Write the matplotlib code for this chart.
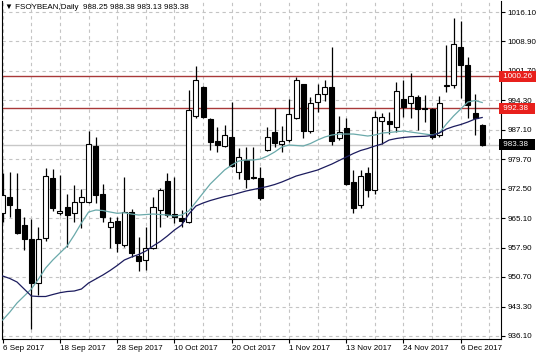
import numpy as np
import matplotlib
matplotlib.use("Agg")
import matplotlib.pyplot as plt
from matplotlib.transforms import blended_transform_factory

plt.rcParams['font.family'] = ['Liberation Sans', 'DejaVu Sans']

opens = [966.45, 970.41, 967.44, 963.48, 960.02, 949.21, 960.27, 975.11, 966.38, 967.94,
         966.45, 969.25, 969.17, 983.03, 971.15, 963.06, 964.47, 958.54, 966.70, 955.82,
         954.83, 957.79, 967.19, 974.37, 966.20, 965.14, 964.23, 990.45, 997.62, 989.78,
         984.34, 983.03, 985.25, 976.59, 979.56, 975.23, 975.11, 982.04, 986.49, 983.64,
         984.51, 989.95, 998.36, 986.74, 993.98, 995.89, 997.70, 984.93, 987.60, 974.19,
         968.43, 976.35, 972.14, 989.33, 989.28, 987.73, 994.65, 993.74, 995.15, 992.55,
         992.30, 985.75, 997.87, 998.12, 1007.44, 1003.06, 991.11, 988.25]
highs = [976.35, 976.59, 976.35, 965.46, 964.97, 963.06, 977.58, 977.34, 975.85, 971.15,
         973.38, 972.39, 986.74, 985.25, 973.63, 965.54, 965.46, 975.36, 967.44, 960.52,
         962.99, 970.41, 972.64, 976.35, 975.36, 967.19, 996.88, 1002.81, 997.87, 989.95,
         987.85, 988.34, 993.91, 982.53, 982.78, 982.78, 977.83, 987.73, 992.55, 987.97,
         994.65, 1000.09, 998.49, 995.15, 998.36, 999.35, 1007.52, 990.45, 989.95, 977.09,
         977.21, 977.91, 991.68, 991.31, 991.44, 998.93, 999.35, 1001.08, 995.64, 995.77,
         992.43, 995.39, 1008.01, 1014.61, 1014.07, 1005.12, 995.89, 988.38]
lows = [964.23, 965.46, 961.26, 957.30, 937.76, 946.17, 959.53, 966.95, 965.96, 958.04,
        964.23, 962.74, 968.93, 968.93, 964.23, 957.79, 956.80, 958.04, 955.57, 952.10,
        952.35, 957.55, 962.99, 965.46, 963.98, 962.99, 963.98, 989.95, 989.95, 982.04,
        981.54, 982.78, 977.83, 974.86, 972.64, 974.86, 969.67, 981.79, 982.78, 981.54,
        984.14, 989.70, 985.00, 986.24, 991.44, 994.16, 983.27, 984.51, 973.38, 966.53,
        967.69, 970.41, 971.15, 983.52, 985.99, 986.49, 990.32, 989.95, 986.98, 988.96,
        984.76, 985.38, 996.38, 997.37, 994.90, 989.95, 985.75, 983.13]
closes = [970.90, 968.43, 961.50, 960.02, 949.21, 960.02, 975.60, 967.69, 966.95, 965.96,
          969.17, 970.41, 983.52, 970.90, 965.46, 964.30, 959.03, 966.70, 956.56, 954.58,
          957.79, 967.94, 972.14, 965.96, 965.54, 964.47, 991.93, 999.35, 990.20, 984.09,
          983.27, 985.75, 978.08, 980.30, 974.86, 975.04, 970.16, 985.25, 983.77, 984.26,
          990.94, 999.35, 986.86, 993.66, 995.89, 997.74, 984.26, 986.56, 973.75, 967.61,
          975.60, 972.14, 990.20, 990.13, 988.54, 996.75, 992.75, 995.47, 992.10, 992.30,
          985.18, 993.59, 998.24, 1008.26, 1003.14, 993.17, 990.08, 983.38]

ma_fast = [939.98, 941.96, 944.19, 945.92, 947.65, 950.13, 952.85, 954.83, 956.56, 958.29,
           961.01, 963.98, 966.70, 967.19, 967.07, 966.70, 966.38, 966.53, 966.20, 965.96,
           966.08, 966.20, 966.08, 965.96, 965.71, 965.96, 966.95, 969.17, 971.40, 973.63,
           975.36, 977.09, 978.33, 979.32, 979.56, 979.56, 979.81, 980.55, 981.54, 982.78,
           983.27, 983.15, 983.03, 983.64, 984.51, 985.25, 985.75, 985.99, 985.99, 985.99,
           985.75, 985.50, 985.75, 986.24, 986.37, 986.56, 986.74, 986.49, 986.24, 985.99,
           985.75, 986.24, 988.47, 990.45, 992.18, 993.91, 994.28, 993.79]
ma_slow = [950.87, 950.25, 949.38, 947.65, 945.92, 945.80, 945.80, 946.29, 946.74, 947.03,
           947.16, 947.65, 949.14, 950.13, 951.12, 952.23, 953.47, 954.83, 955.57, 956.19,
           957.05, 958.29, 959.40, 960.76, 962.25, 963.48, 966.20, 968.18, 968.93, 969.54,
           970.04, 970.53, 970.90, 971.40, 971.89, 972.27, 972.64, 973.01, 973.50, 974.12,
           974.86, 975.60, 976.10, 976.59, 977.09, 977.83, 978.57, 979.44, 980.30, 981.17,
           981.91, 982.41, 983.03, 983.52, 984.51, 984.88, 985.13, 985.30, 985.38, 985.43,
           985.62, 986.24, 987.23, 987.85, 988.34, 988.96, 989.70, 990.08]

tick_pos = [0, 8, 16, 24, 32, 40, 48, 56, 64]
tick_labels = ["6 Sep 2017", "18 Sep 2017", "28 Sep 2017", "10 Oct 2017", "20 Oct 2017",
               "1 Nov 2017", "13 Nov 2017", "24 Nov 2017", "6 Dec 2017"]
price_ticks = [936.10, 943.30, 950.70, 957.90, 965.10, 972.50, 979.70, 987.10,
               994.30, 1001.70, 1008.90, 1016.10]
levels = [1000.26, 992.38]
last_price = 983.38
title = "\u25BC FSOYBEAN,Daily  988.25 988.38 983.13 983.38"

W, H = 536, 357
fig = plt.figure(figsize=(W / 100, H / 100), dpi=100)
ax = fig.add_axes([1.5 / W, 18.5 / H, 499.5 / W, 337.5 / H])
ax.set_xlim(-0.17, 69.63)
ax.set_ylim(935.41, 1018.90)

x = np.arange(len(opens))
o = np.array(opens); c = np.array(closes)
hi = np.array(highs); lo = np.array(lows)

# grid
fs = 5.8
ax.set_yticks(price_ticks)
ax.set_yticklabels([f"{v:.2f}" for v in price_ticks], fontsize=fs)
ax.yaxis.tick_right()
ax.tick_params(axis='y', length=3, width=0.8, pad=1.5, colors='black')
ax.set_xticks(tick_pos)
ax.set_xticklabels(tick_labels, fontsize=fs)
for lab in ax.get_xticklabels():
    lab.set_ha('left')
ax.set_xticks([p + 4 for p in tick_pos], minor=True)
ax.tick_params(axis='x', which='major', length=3, width=0.8, pad=1.5)
ax.tick_params(axis='x', which='minor', length=0)
ax.grid(True, which='both', axis='x', linestyle=(0, (3, 3)), color='#c4c4c4', linewidth=0.8)
ax.grid(True, which='major', axis='y', linestyle=(0, (3, 3)), color='#c4c4c4', linewidth=0.8)
ax.set_axisbelow(True)

# current price line and levels
ax.axhline(last_price, color='#c8c8c8', linewidth=1.0, zorder=1)
for lv in levels:
    ax.axhline(lv, color='#a83838', linewidth=1.0, zorder=1.5)

# candles
ax.vlines(x, lo, hi, color='black', linewidth=0.9, zorder=2)
bottoms = np.minimum(o, c)
heights = np.maximum(np.abs(c - o), 0.2)
colors = ['white' if cc >= oo else 'black' for oo, cc in zip(o, c)]
ax.bar(x, heights, bottom=bottoms, width=0.7, color=colors, edgecolor='black',
       linewidth=0.8, zorder=3)

# moving averages
ax.plot(x, ma_fast, color='#6aa9aa', linewidth=0.9, zorder=4)
ax.plot(x, ma_slow, color='#1c1c5e', linewidth=0.9, zorder=4)

for s in ['left', 'right', 'bottom']:
    ax.spines[s].set_color('black')
    ax.spines[s].set_linewidth(0.8)
ax.spines['top'].set_visible(False)

# right-side price labels
tr = blended_transform_factory(ax.transAxes, ax.transData)
for lv, fc in [(levels[0], '#e8201c'), (levels[1], '#e8201c'), (last_price, 'black')]:
    ax.text(1.0, lv, f" {lv:.2f}  ", transform=tr, fontsize=fs, color='white',
            ha='left', va='center', clip_on=False, zorder=10,
            bbox=dict(boxstyle='square,pad=0.25', fc=fc, ec='none'))

fig.text(5 / W, 1 - 7.5 / H, title, fontsize=fs, va='center', ha='left', color='black')

fig.savefig('out.png', dpi=100)
